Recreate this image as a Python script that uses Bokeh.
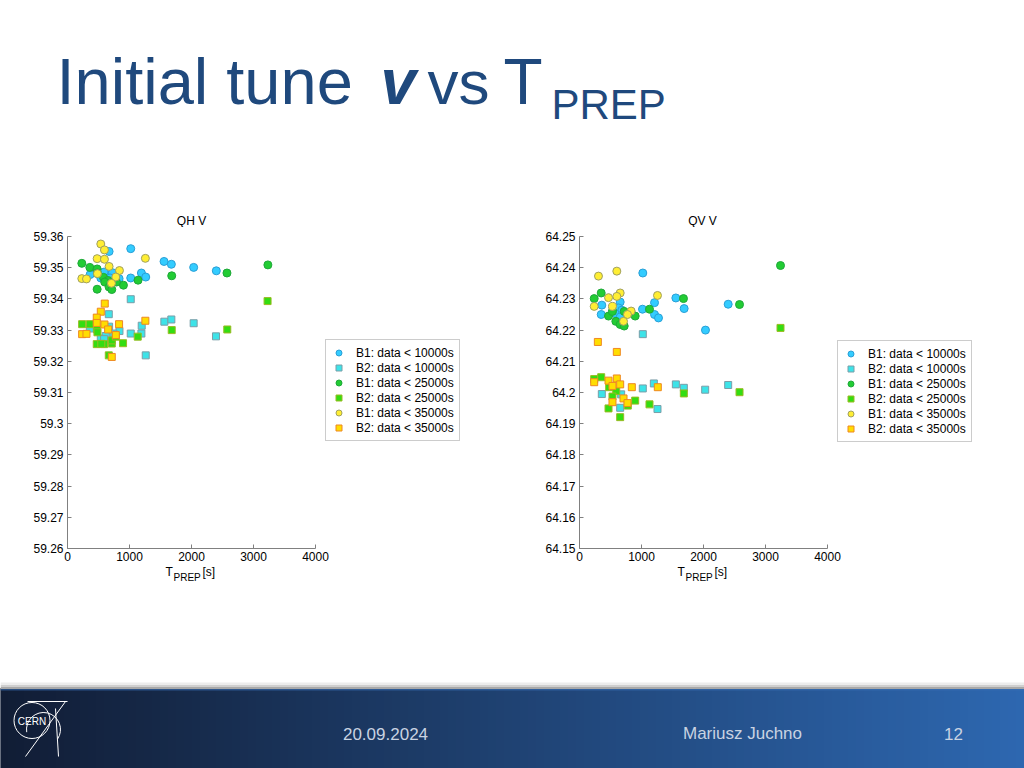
from bokeh.plotting import figure
from bokeh.models import Range1d, FixedTicker, CustomJSTickFormatter, Legend, LegendItem
from bokeh.layouts import column, row
from bokeh.embed import file_html
from bokeh.resources import INLINE
from bokeh.core.properties import value

FONT = "Liberation Sans"

# ---------------- data: QH V ----------------
qh_b1_10k_t = [671, 1020, 1557, 1675, 2035, 2400, 365, 483, 564, 655, 725, 832, 1020, 1192, 1262, 590, 537, 687]
qh_b1_10k_v = [59.3552, 59.3561, 59.3520, 59.3511, 59.3501, 59.3490, 59.3478, 59.3481, 59.3473, 59.3476,
               59.3484, 59.3465, 59.3467, 59.3483, 59.3470, 59.3486, 59.3467, 59.3467]
qh_b2_10k_t = [1020, 666, 1562, 1675, 2035, 1197, 1020, 1192, 2395, 1262, 838, 360, 537, 617, 671, 741, 590]
qh_b2_10k_v = [59.3399, 59.3351, 59.3327, 59.3334, 59.3322, 59.3314, 59.3289, 59.3289, 59.3280, 59.3219,
               59.3297, 59.3305, 59.3273, 59.3281, 59.3311, 59.3289, 59.3271]
qh_b1_25k_t = [231, 360, 478, 483, 580, 655, 709, 601, 671, 714, 478, 902, 1138, 1681, 2572, 3232, 789]
qh_b1_25k_v = [59.3514, 59.3501, 59.3496, 59.3483, 59.3469, 59.3459, 59.3449, 59.3454, 59.3438, 59.3430,
               59.3431, 59.3444, 59.3460, 59.3474, 59.3483, 59.3509, 59.3454]
qh_b2_25k_t = [236, 360, 478, 472, 590, 714, 896, 1133, 1681, 2577, 3227, 666, 714, 483, 779, 545]
qh_b2_25k_v = [59.3319, 59.3319, 59.3302, 59.3255, 59.3255, 59.3257, 59.3258, 59.3279, 59.3300, 59.3302,
               59.3393, 59.3219, 59.3267, 59.3293, 59.3279, 59.3256]
qh_b1_35k_t = [537, 596, 478, 596, 671, 1256, 838, 483, 779, 709, 231, 306]
qh_b1_35k_v = [59.3576, 59.3557, 59.3529, 59.3527, 59.3504, 59.3530, 59.3491, 59.3481, 59.3470, 59.3450,
               59.3465, 59.3464]
qh_b2_35k_t = [601, 537, 472, 472, 236, 306, 596, 655, 832, 779, 1256, 714]
qh_b2_35k_v = [59.3385, 59.3359, 59.3340, 59.3323, 59.3287, 59.3288, 59.3318, 59.3302, 59.3319, 59.3284,
               59.3330, 59.3214]

# ---------------- data: QV V ----------------
qv_b1_10k_t = [1021, 1554, 1688, 2032, 2398, 1210, 1016, 1210, 1274, 360, 350, 656, 629, 683, 575, 656]
qv_b1_10k_v = [64.2383, 64.2303, 64.2269, 64.2200, 64.2283, 64.2288, 64.2267, 64.2250, 64.2239, 64.2280,
               64.2250, 64.2290, 64.2271, 64.2264, 64.2253, 64.2242]
qv_b2_10k_t = [1021, 1199, 1554, 1683, 2027, 2398, 1021, 360, 1258, 656, 672]
qv_b2_10k_v = [64.2187, 64.2029, 64.2026, 64.2015, 64.2009, 64.2024, 64.2013, 64.1995, 64.1947, 64.1951, 64.1994]
qv_b1_25k_t = [350, 237, 1677, 1129, 898, 468, 532, 586, 656, 721, 721, 2581, 3242]
qv_b1_25k_v = [64.2319, 64.2301, 64.2301, 64.2267, 64.2245, 64.2245, 64.2260, 64.2228, 64.2218, 64.2213,
               64.2260, 64.2282, 64.2407]
qv_b2_25k_t = [237, 350, 479, 592, 532, 468, 656, 898, 1129, 1683, 779, 2581, 3242]
qv_b2_25k_v = [64.2043, 64.2049, 64.2017, 64.2005, 64.1987, 64.1949, 64.1921, 64.1974, 64.1962, 64.1997,
               64.1958, 64.2001, 64.2207]
qv_b1_35k_t = [306, 602, 656, 468, 237, 1258, 532, 602, 833, 774, 710]
qv_b1_35k_v = [64.2373, 64.2389, 64.2319, 64.2304, 64.2276, 64.2311, 64.2276, 64.2308, 64.2261, 64.2250, 64.2228]
qv_b2_35k_t = [296, 602, 237, 468, 602, 656, 844, 1263, 532, 710, 774, 532]
qv_b2_35k_v = [64.2162, 64.2130, 64.2033, 64.2038, 64.2045, 64.2026, 64.2017, 64.2017, 64.2021, 64.1981,
               64.1966, 64.1969]

series_labels = ["B1: data < 10000s", "B2: data < 10000s", "B1: data < 25000s",
                 "B2: data < 25000s", "B1: data < 35000s", "B2: data < 35000s"]
x_ticks = [0, 1000, 2000, 3000, 4000]
x_max = 4000
qh_ticks = [59.26, 59.27, 59.28, 59.29, 59.30, 59.31, 59.32, 59.33, 59.34, 59.35, 59.36]
qv_ticks = [64.15, 64.16, 64.17, 64.18, 64.19, 64.20, 64.21, 64.22, 64.23, 64.24, 64.25]

# styles
markers = ["circle", "square", "circle", "square", "circle", "square"]
sizes = [8, 7, 8, 7, 8, 7]
fills = ["#33ccff", "#3de3e8", "#22cc33", "#33dd11", "#ffee33", "#ffdd00"]
edges = ["#2a9fd6", "#7a9ea8", "#1fa83a", "#99bb22", "#a0a060", "#ee8822"]
AXIS_GREY = "#808080"
TITLE_BLUE = "#1F497D"

ROW_TOP = 227
ROW_H = 339
AXIS_W = 248  # pixel length of the 0..4000 x axis


def make_plot(groups, y_min, y_max, y_ticks, width, left, top, frame_h):
    frame_w = width - left
    p = figure(width=width, height=ROW_H,
               x_range=Range1d(0, x_max * frame_w / AXIS_W), y_range=Range1d(y_min, y_max),
               output_backend="svg", toolbar_location=None,
               min_border_left=left, min_border_right=0,
               min_border_top=top, min_border_bottom=ROW_H - top - frame_h)
    p.grid.visible = False
    p.outline_line_color = None
    p.background_fill_color = "white"
    p.border_fill_color = "white"
    for ax in (p.xaxis[0], p.yaxis[0]):
        ax.axis_line_color = AXIS_GREY
        ax.major_tick_line_color = AXIS_GREY
        ax.major_tick_in = 4
        ax.major_tick_out = 0
        ax.minor_tick_line_color = None
        ax.major_label_text_font = FONT
        ax.major_label_text_font_size = "12px"
        ax.major_label_text_color = "#000000"
        ax.major_label_standoff = 4
    p.xaxis.major_label_standoff = 3
    p.xaxis.bounds = (0, x_max)
    p.xaxis.ticker = FixedTicker(ticks=x_ticks)
    p.yaxis.ticker = FixedTicker(ticks=y_ticks)
    p.xaxis.formatter = CustomJSTickFormatter(code="return tick.toFixed(0);")
    p.yaxis.formatter = CustomJSTickFormatter(code="return tick.toFixed(2).replace(/0$/, '');")

    items = []
    for i, (t, v) in enumerate(groups):
        r = p.scatter(t, v, marker=markers[i], size=sizes[i], fill_color=fills[i],
                      line_color=edges[i], line_width=1)
        items.append(LegendItem(label=series_labels[i], renderers=[r]))
    legend = Legend(items=items, location=(AXIS_W + 10, (frame_h - 100) // 2), orientation="vertical",
                    label_text_font=FONT, label_text_font_size="12px", label_text_color="#000000",
                    glyph_width=15, glyph_height=15, label_height=15, label_standoff=10,
                    spacing=0, padding=5, margin=0,
                    border_line_color="#999999", border_line_width=1,
                    background_fill_color="white", background_fill_alpha=1)
    p.add_layout(legend)
    return p


p1 = make_plot([(qh_b1_10k_t, qh_b1_10k_v), (qh_b2_10k_t, qh_b2_10k_v), (qh_b1_25k_t, qh_b1_25k_v),
                (qh_b2_25k_t, qh_b2_25k_v), (qh_b1_35k_t, qh_b1_35k_v), (qh_b2_35k_t, qh_b2_35k_v)],
               59.26, 59.36, qh_ticks, 488, 67, 7, 314)
p2 = make_plot([(qv_b1_10k_t, qv_b1_10k_v), (qv_b2_10k_t, qv_b2_10k_v), (qv_b1_25k_t, qv_b1_25k_v),
                (qv_b2_25k_t, qv_b2_25k_v), (qv_b1_35k_t, qv_b1_35k_v), (qv_b2_35k_t, qv_b2_35k_v)],
               64.15, 64.25, qv_ticks, 536, 91, 9, 313)


def blank(height, y0, y1):
    f = figure(width=1024, height=height, x_range=Range1d(0, 1024), y_range=Range1d(y0, y1),
               x_axis_type=None, y_axis_type=None, output_backend="svg", toolbar_location=None,
               min_border=0)
    f.grid.visible = False
    f.outline_line_color = None
    f.background_fill_color = "white"
    f.border_fill_color = "white"
    return f


def txt(f, x, y, s, size, color="#000000", align="left", style="normal"):
    f.text(x=[x], y=[y], text=[s], text_font=value(FONT), text_font_size=size, text_color=color,
           text_align=align, text_baseline="middle", text_font_style=style)


# ---------------- header: slide title and chart titles ----------------
header = blank(ROW_TOP, ROW_TOP, 0)
txt(header, 56, 80.5, "Initial tune", "65px", TITLE_BLUE)
txt(header, 380, 81, "v", "64px", TITLE_BLUE, style="bold italic")
txt(header, 427, 82, "vs", "62px", TITLE_BLUE)
txt(header, 503, 81, "T", "64px", TITLE_BLUE)
txt(header, 551, 103.5, "PREP", "42px", TITLE_BLUE)
txt(header, 191, 220, "QH V", "12px", align="center")
txt(header, 702, 220, "QV V", "12px", align="center")

# ---------------- footer: axis titles + slide footer ----------------
FOOT_TOP = ROW_TOP + ROW_H
footer = blank(768 - FOOT_TOP, 768, FOOT_TOP)
for x0 in (165, 677):
    txt(footer, x0, 571, "T", "12px")
    txt(footer, x0 + 8, 576.5, "PREP", "10px")
    txt(footer, x0 + 37, 571, "[s]", "12px")


def mix(c0, c1, f):
    a = [int(c0[i:i + 2], 16) for i in (1, 3, 5)]
    b = [int(c1[i:i + 2], 16) for i in (1, 3, 5)]
    return "#%02x%02x%02x" % tuple(int(round(a[k] + (b[k] - a[k]) * f)) for k in range(3))


n = 128
lefts = [i * 1024 / n for i in range(n)]
rights = [(i + 1) * 1024 / n for i in range(n)]
cols = [mix("#111d35", "#2d67b0", i / (n - 1)) for i in range(n)]
footer.quad(left=lefts, right=rights, top=[688] * n, bottom=[770] * n, fill_color=cols, line_color=cols,
            line_width=1)
footer.quad(left=[0, 0, 0], right=[1024, 1024, 1024], top=[682, 684.5, 686.5], bottom=[684.5, 686.5, 688.5],
            fill_color=["#ececec", "#cfcfcf", "#a8a8a8"], line_color=None)
footer.quad(left=[0], right=[1024], top=[688.5], bottom=[690], fill_color="#3b70b4", line_color=None,
            fill_alpha=0.6)

# CERN logo (approximate)
footer.ellipse(x=[31.5], y=[720], width=[36], height=[36], fill_color=None, line_color="white", line_width=1)
footer.arc(x=[43], y=[729], radius=17, start_angle=-0.6, end_angle=3.3, line_color="white", line_width=1)
footer.line(x=[27, 67], y=[701, 701], line_color="white", line_width=1)
footer.line(x=[65, 25], y=[701, 756], line_color="white", line_width=1)
footer.line(x=[55, 58], y=[708, 756], line_color="white", line_width=1)
txt(footer, 31.5, 720.5, "CERN", "10px", "white", align="center")

for x0, s in ((385, "20.09.2024"), (742, "Mariusz Juchno"), (953, "12")):
    txt(footer, x0, 733, s, "17px", "#c9d3e2", align="center")

page = column(header, row(p1, p2), footer)
open("out.html", "w").write(file_html(page, INLINE))
